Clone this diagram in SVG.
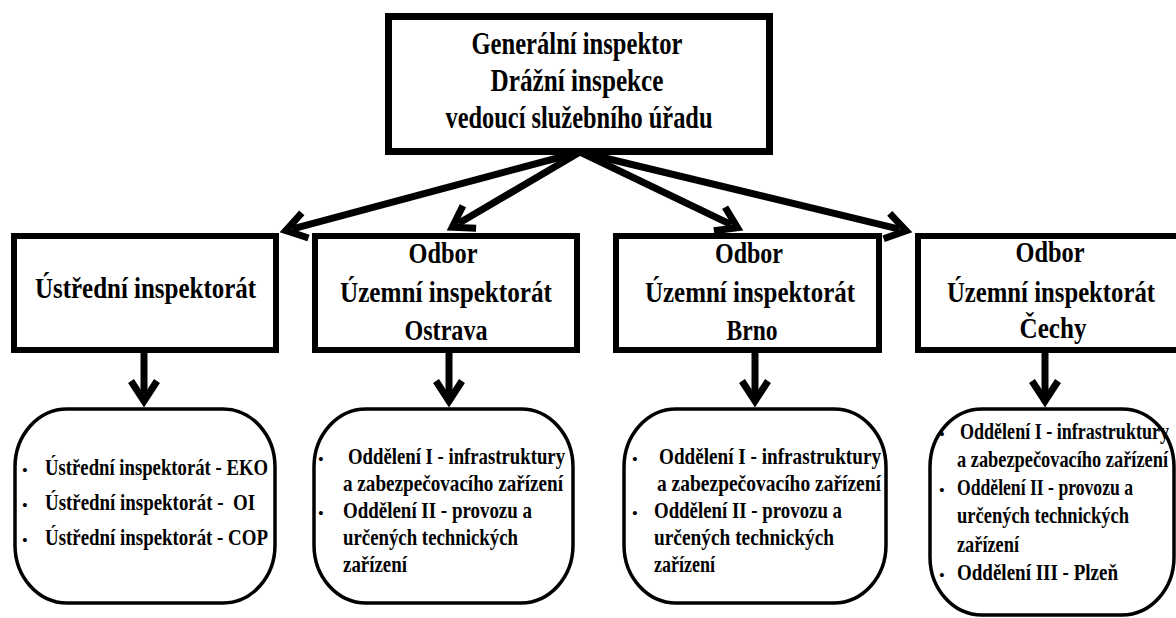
<svg xmlns="http://www.w3.org/2000/svg" width="1176" height="618" viewBox="0 0 1176 618">
<style>
.box{fill:#fff;stroke:#000;stroke-width:6}
.top{stroke-width:7}
.rbox{fill:#fff;stroke:#000;stroke-width:3.5}
.t{font-family:"Liberation Serif","Times New Roman",serif;font-weight:bold;fill:#000}
.h{font-size:32px;text-anchor:middle}
.n{font-size:29px;text-anchor:middle}
.l{font-size:23px}
.b{font-size:15px;text-anchor:middle}
.c{fill:none;stroke:#000;stroke-width:7}
</style>
<defs>
<marker id="chev" markerUnits="userSpaceOnUse" markerWidth="60" markerHeight="60" refX="0" refY="0" orient="auto" overflow="visible" viewBox="-30 -30 60 60">
<path d="M-13,-13 L7,0 L-13,13" fill="none" stroke="#000" stroke-width="7" stroke-linejoin="miter"/>
</marker>
</defs>
<rect width="1176" height="618" fill="#fff"/>

<g id="gi">
<rect class="box top" x="388.5" y="16.5" width="381" height="135"/>
<text class="t h" x="577" y="54" textLength="211" lengthAdjust="spacingAndGlyphs">Generální inspektor</text>
<text class="t h" x="577" y="91" textLength="173" lengthAdjust="spacingAndGlyphs">Drážní inspekce</text>
<text class="t h" x="579" y="128" textLength="267" lengthAdjust="spacingAndGlyphs">vedoucí služebního úřadu</text>
</g>

<g id="ui">
<rect class="box" x="14" y="236" width="262" height="114"/>
<text class="t n" x="145.5" y="298" textLength="221" lengthAdjust="spacingAndGlyphs">Ústřední inspektorát</text>
</g>

<g id="ostrava">
<rect class="box" x="315" y="236" width="262" height="114"/>
<text class="t n" x="443" y="263" textLength="69" lengthAdjust="spacingAndGlyphs">Odbor</text>
<text class="t n" x="446" y="302" textLength="212" lengthAdjust="spacingAndGlyphs">Územní inspektorát</text>
<text class="t n" x="446" y="340" textLength="83" lengthAdjust="spacingAndGlyphs">Ostrava</text>
</g>

<g id="brno">
<rect class="box" x="616" y="236" width="263" height="114"/>
<text class="t n" x="749" y="263" textLength="68" lengthAdjust="spacingAndGlyphs">Odbor</text>
<text class="t n" x="750" y="302" textLength="210" lengthAdjust="spacingAndGlyphs">Územní inspektorát</text>
<text class="t n" x="752" y="340" textLength="51" lengthAdjust="spacingAndGlyphs">Brno</text>
</g>

<g id="cechy">
<rect class="box" x="918" y="236" width="268" height="114"/>
<text class="t n" x="1050" y="262" textLength="69" lengthAdjust="spacingAndGlyphs">Odbor</text>
<text class="t n" x="1051" y="302" textLength="208" lengthAdjust="spacingAndGlyphs">Územní inspektorát</text>
<text class="t n" x="1053" y="338" textLength="67" lengthAdjust="spacingAndGlyphs">Čechy</text>
</g>

<g id="ui-list">
<rect class="rbox" x="15" y="409" width="260" height="194" rx="52" ry="58"/>
<text class="t b" x="25" y="475">•</text>
<text class="t l" x="45" y="475" textLength="223" lengthAdjust="spacingAndGlyphs">Ústřední inspektorát - EKO</text>
<text class="t b" x="25" y="510">•</text>
<text class="t l" x="45" y="510" textLength="210" lengthAdjust="spacingAndGlyphs" xml:space="preserve">Ústřední inspektorát -  OI</text>
<text class="t b" x="25" y="545">•</text>
<text class="t l" x="45" y="545" textLength="223" lengthAdjust="spacingAndGlyphs">Ústřední inspektorát - COP</text>
</g>

<g id="ostrava-list">
<rect class="rbox" x="314" y="409" width="259" height="194" rx="52" ry="58"/>
<text class="t b" x="321" y="464">•</text>
<text class="t l" x="348" y="464" textLength="217" lengthAdjust="spacingAndGlyphs">Oddělení I - infrastruktury</text>
<text class="t l" x="343" y="491" textLength="220" lengthAdjust="spacingAndGlyphs">a zabezpečovacího zařízení</text>
<text class="t b" x="321" y="518">•</text>
<text class="t l" x="343" y="518" textLength="189" lengthAdjust="spacingAndGlyphs">Oddělení II - provozu a</text>
<text class="t l" x="343" y="545" textLength="175" lengthAdjust="spacingAndGlyphs">určených technických</text>
<text class="t l" x="343" y="572" textLength="64" lengthAdjust="spacingAndGlyphs">zařízení</text>
</g>

<g id="brno-list">
<rect class="rbox" x="624" y="409" width="262" height="194" rx="52" ry="58"/>
<text class="t b" x="635" y="464">•</text>
<text class="t l" x="659" y="464" textLength="222" lengthAdjust="spacingAndGlyphs">Oddělení I - infrastruktury</text>
<text class="t l" x="657" y="491" textLength="224" lengthAdjust="spacingAndGlyphs">a zabezpečovacího zařízení</text>
<text class="t b" x="635" y="518">•</text>
<text class="t l" x="654" y="518" textLength="188" lengthAdjust="spacingAndGlyphs">Oddělení II - provozu a</text>
<text class="t l" x="654" y="545" textLength="180" lengthAdjust="spacingAndGlyphs">určených technických</text>
<text class="t l" x="654" y="572" textLength="61" lengthAdjust="spacingAndGlyphs">zařízení</text>
</g>

<g id="cechy-list">
<rect class="rbox" x="930" y="409" width="244" height="206" rx="52" ry="58"/>
<text class="t b" x="942" y="439">•</text>
<text class="t l" x="960" y="439" textLength="209" lengthAdjust="spacingAndGlyphs">Oddělení I - infrastruktury</text>
<text class="t l" x="957" y="467" textLength="211" lengthAdjust="spacingAndGlyphs">a zabezpečovacího zařízení</text>
<text class="t b" x="942" y="495">•</text>
<text class="t l" x="957" y="495" textLength="176" lengthAdjust="spacingAndGlyphs">Oddělení II - provozu a</text>
<text class="t l" x="957" y="523" textLength="172" lengthAdjust="spacingAndGlyphs">určených technických</text>
<text class="t l" x="957" y="552" textLength="62" lengthAdjust="spacingAndGlyphs">zařízení</text>
<text class="t b" x="942" y="580">•</text>
<text class="t l" x="957" y="580" textLength="161" lengthAdjust="spacingAndGlyphs">Oddělení III - Plzeň</text>
</g>

<g id="connectors">
<line class="c" x1="580" y1="152" x2="292.6" y2="228.8" marker-end="url(#chev)"/>
<line class="c" x1="580" y1="152" x2="458.3" y2="223.6" marker-end="url(#chev)"/>
<line class="c" x1="580" y1="152" x2="731.2" y2="224.6" marker-end="url(#chev)"/>
<line class="c" x1="580" y1="152" x2="899.3" y2="229.1" marker-end="url(#chev)"/>
<line class="c" x1="144" y1="353" x2="144" y2="394" marker-end="url(#chev)"/>
<line class="c" x1="449" y1="353" x2="449" y2="394" marker-end="url(#chev)"/>
<line class="c" x1="755" y1="353" x2="755" y2="394" marker-end="url(#chev)"/>
<line class="c" x1="1045" y1="353" x2="1045" y2="394" marker-end="url(#chev)"/>
</g>
</svg>
